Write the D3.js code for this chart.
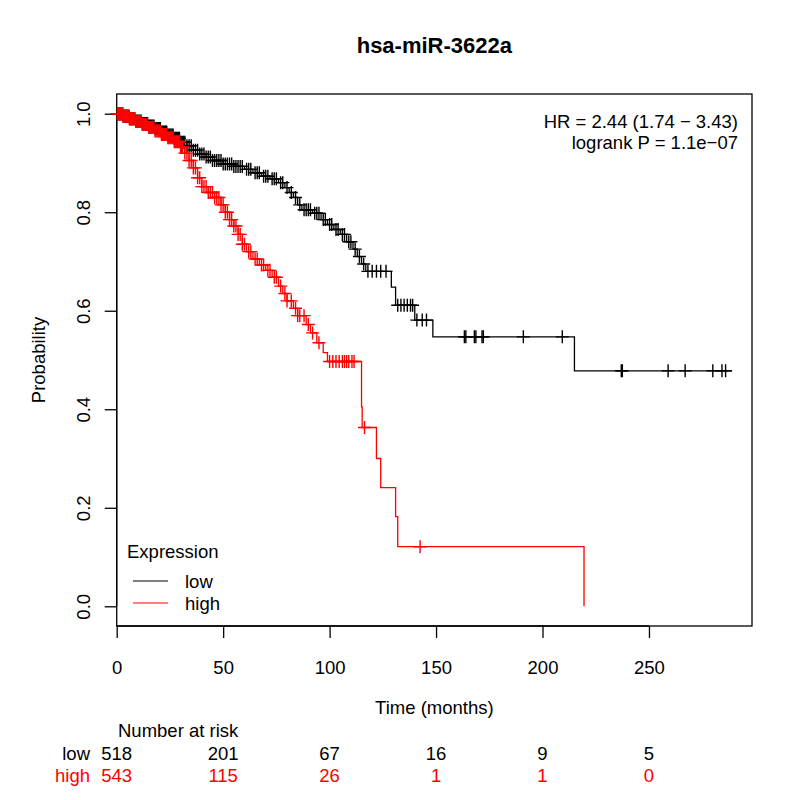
<!DOCTYPE html>
<html>
<head>
<meta charset="utf-8">
<script src="https://cdn.jsdelivr.net/npm/d3@7"></script>
<style>
  body { margin: 0; background: #fff; }
  svg { font-family: "Liberation Sans", Arial, sans-serif; }
</style>
</head>
<body>
<div id="chart"></div>
<script>
// Kaplan-Meier steps: [time, survival after drop]
const lowSteps = [
  [0, 1.0], [3, 0.995], [6, 0.99], [9, 0.985], [12, 0.98], [15, 0.975], [18, 0.97],
  [21, 0.963], [24, 0.957], [27, 0.95], [30, 0.942], [33, 0.935], [36, 0.926],
  [39, 0.918], [42, 0.912], [45, 0.905], [50, 0.898], [55, 0.893], [60, 0.887],
  [64, 0.88], [68, 0.873], [72, 0.868], [76, 0.86], [79, 0.85], [81, 0.84],
  [83, 0.83], [85, 0.815], [87, 0.805], [92, 0.798], [96, 0.785], [99, 0.775],
  [102, 0.765], [105, 0.755], [108, 0.74], [111, 0.725], [113, 0.71], [115, 0.695],
  [117, 0.68], [129, 0.648], [131, 0.611], [140, 0.581], [148.5, 0.547], [215, 0.478],
  [289, 0.478]
];
const highSteps = [
  [0, 1.0], [3, 0.995], [6, 0.99], [9, 0.984], [12, 0.978], [15, 0.972], [18, 0.965],
  [21, 0.958], [24, 0.951], [27, 0.943], [30, 0.933], [32, 0.92], [34, 0.905],
  [36, 0.89], [38, 0.87], [40, 0.852], [43, 0.84], [46, 0.83], [49, 0.815],
  [51, 0.8], [53, 0.785], [55, 0.772], [57, 0.755], [59, 0.735], [61, 0.72],
  [64, 0.705], [67, 0.693], [70, 0.682], [73, 0.668], [76, 0.65], [78, 0.635],
  [80, 0.62], [83, 0.605], [85, 0.59], [89, 0.572], [91, 0.555], [94, 0.535],
  [97, 0.515], [99, 0.497], [115, 0.405], [115.3, 0.363], [122, 0.30], [124, 0.241],
  [131, 0.182], [132, 0.121], [219.5, 0]
];

// censoring times (plus marks)
const lowCensor = [0.3,0.5,0.8,1,1.3,1.5,1.8,2,2.3,2.5,2.8,3,3.3,3.5,3.8,4,4.3,4.5,4.8,5,5.3,5.5,5.8,6,6.5,7,7.5,8,8.5,9,9.5,10,10.5,11,11.5,12,12.5,13,13.5,14,14.5,15,15.5,16,16.5,17,17.5,18,18.5,19,19.5,20,20.5,21,21.5,22,22.5,23,23.5,24,24.5,25,25.5,26,26.5,27,27.5,28,28.5,29,29.5,30,30.5,31,31.5,32,33,34,35,36,37,38,39,40,41,42,43,44,45,46,47,48,49,50,51,52,53,54,55,56,57,58,59,61,62,63,65,66,67,69,70,71,73,74,75,77,78,80,82,84,86,88,89,90,91,93,94,95,97,98,100,101,103,104,106,107,109,110,112,114,116,118,120,122,124,126.5,132,133.5,135,136.5,138,139,141,143.5,145.5,163.3,164,168,168.7,171.6,172.2,191,209.3,237,237.5,259,267,280,284.3,286];
const highCensor = [0.3,0.5,0.8,1,1.3,1.5,1.8,2,2.3,2.5,2.8,3,3.3,3.5,3.8,4,4.3,4.5,4.8,5,5.3,5.5,5.8,6,6.3,6.5,6.8,7,7.3,7.5,7.8,8,8.5,9,9.5,10,10.5,11,11.5,12,12.5,13,13.5,14,14.5,15,15.5,16,16.5,17,17.5,18,18.5,19,19.5,20,20.5,21,21.5,22,22.5,23,23.5,24,24.5,25,25.5,26,26.5,27,27.5,28,28.5,29,29.5,30,30.5,31,32,33,34,35,36,37,38,39,40,41,42,43,44,45,46,47,48,49,50,51,52,53,54,55,56,57,58,59,60,62,63,65,66,68,69,71,72,74,75,77,79,80,82,84,85,86,88,90,92,95,100,101.5,103,104.5,106,107,108,109,110.5,111.5,116.4,142.5];

const xTicks = [0, 50, 100, 150, 200, 250];
const yTicks = [0.0, 0.2, 0.4, 0.6, 0.8, 1.0];
const riskLow = [518, 201, 67, 16, 9, 5];
const riskHigh = [543, 115, 26, 1, 1, 0];

const width = 800, height = 800;
const box = { left: 116.7, right: 752, top: 94, bottom: 626 };
const fs = 18.5;

const svg = d3.select("#chart").append("svg")
  .attr("width", width).attr("height", height);

const x = d3.scaleLinear().domain([0, 298.4]).range([box.left, box.right]);
const y = d3.scaleLinear().domain([-0.04, 1.04]).range([box.bottom, box.top]);

// title
svg.append("text")
  .attr("x", (box.left + box.right) / 2).attr("y", 45)
  .attr("text-anchor", "middle").attr("dominant-baseline", "central")
  .attr("font-weight", "bold").attr("font-size", 22)
  .text("hsa-miR-3622a");

// box
svg.append("rect")
  .attr("x", box.left).attr("y", box.top)
  .attr("width", box.right - box.left).attr("height", box.bottom - box.top)
  .attr("fill", "none").attr("stroke", "#000").attr("stroke-width", 1.3);

// x axis
const xAxis = svg.append("g").attr("transform", `translate(0,${box.bottom})`)
  .call(d3.axisBottom(x).tickValues(xTicks).tickSize(12).tickPadding(23));
xAxis.select(".domain").attr("d", `M${x(0)},0H${x(250)}`).attr("stroke-width", 1.3);
xAxis.selectAll(".tick line").attr("stroke-width", 1.3);
xAxis.selectAll("text").attr("font-size", fs).attr("font-family", null);

// y axis
const yAxis = svg.append("g").attr("transform", `translate(${box.left},0)`)
  .call(d3.axisLeft(y).tickValues(yTicks).tickSize(12).tickFormat(d3.format(".1f")));
yAxis.select(".domain").attr("d", `M0,${y(0)}V${y(1)}`).attr("stroke-width", 1.3);
yAxis.selectAll(".tick line").attr("stroke-width", 1.3);
yAxis.selectAll("text")
  .attr("font-size", fs).attr("font-family", null)
  .attr("x", null).attr("dy", null)
  .attr("text-anchor", "middle").attr("dominant-baseline", "central")
  .attr("transform", `translate(${83 - box.left},0) rotate(-90)`);

// axis titles
svg.append("text")
  .attr("x", (box.left + box.right) / 2).attr("y", 707)
  .attr("text-anchor", "middle").attr("dominant-baseline", "central")
  .attr("font-size", fs).text("Time (months)");
svg.append("text")
  .attr("transform", `translate(38,${(box.top + box.bottom) / 2}) rotate(-90)`)
  .attr("text-anchor", "middle").attr("dominant-baseline", "central")
  .attr("font-size", fs).text("Probability");

// curves
const line = d3.line().x(d => x(d[0])).y(d => y(d[1])).curve(d3.curveStepAfter);

function survAt(steps, t) {
  const i = d3.bisectRight(steps.map(d => d[0]), t) - 1;
  return steps[Math.max(0, i)][1];
}

function drawGroup(steps, censor, color) {
  const g = svg.append("g");
  g.append("path").attr("d", line(steps))
    .attr("fill", "none").attr("stroke", color).attr("stroke-width", 1.3);
  g.selectAll("path.cens").data(censor).join("path")
    .attr("class", "cens")
    .attr("d", t => {
      const cx = x(t), cy = y(survAt(steps, t));
      return `M${cx - 6.5},${cy}h13M${cx},${cy - 6.5}v13`;
    })
    .attr("stroke", color).attr("stroke-width", 1.4).attr("fill", "none");
}
drawGroup(lowSteps, lowCensor, "#000");
drawGroup(highSteps, highCensor, "red");

// HR text
svg.append("text")
  .attr("x", 738).attr("y", 121)
  .attr("text-anchor", "end").attr("dominant-baseline", "central")
  .attr("font-size", fs).text("HR = 2.44 (1.74 \u2212 3.43)");
svg.append("text")
  .attr("x", 738).attr("y", 142)
  .attr("text-anchor", "end").attr("dominant-baseline", "central")
  .attr("font-size", fs).text("logrank P = 1.1e\u221207");

// legend
const legend = [{ label: "low", color: "#000" }, { label: "high", color: "red" }];
svg.append("text")
  .attr("x", 127).attr("y", 551)
  .attr("dominant-baseline", "central").attr("font-size", fs)
  .text("Expression");
legend.forEach((d, i) => {
  const ly = 581 + i * 22;
  svg.append("line")
    .attr("x1", 133).attr("x2", 168).attr("y1", ly).attr("y2", ly)
    .attr("stroke", d.color).attr("stroke-width", 1.2);
  svg.append("text")
    .attr("x", 185).attr("y", ly)
    .attr("dominant-baseline", "central").attr("font-size", fs)
    .text(d.label);
});

// number at risk
svg.append("text")
  .attr("x", 118).attr("y", 730)
  .attr("dominant-baseline", "central").attr("font-size", fs)
  .text("Number at risk");
const rows = [
  { label: "low", values: riskLow, color: "#000", y: 753 },
  { label: "high", values: riskHigh, color: "red", y: 775 }
];
rows.forEach(r => {
  svg.append("text")
    .attr("x", 90).attr("y", r.y)
    .attr("text-anchor", "end").attr("dominant-baseline", "central")
    .attr("font-size", fs).attr("fill", r.color)
    .text(r.label);
  svg.selectAll(null).data(r.values).join("text")
    .attr("x", (d, i) => x(xTicks[i])).attr("y", r.y)
    .attr("text-anchor", "middle").attr("dominant-baseline", "central")
    .attr("font-size", fs).attr("fill", r.color)
    .text(d => d);
});
</script>
</body>
</html>
